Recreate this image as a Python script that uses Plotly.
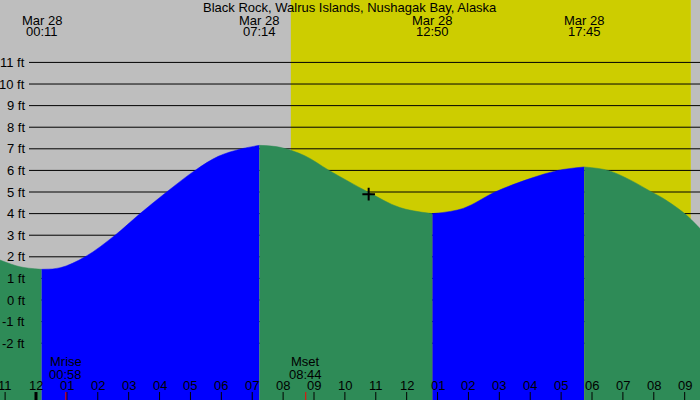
import plotly.graph_objects as go

# ---------------- data ----------------
title_text = "Black Rock, Walrus Islands, Nushagak Bay, Alaska"
date_label = "Mar 28"

# tide extremes (hours after midnight Mar 28)
tide_times = ["00:11", "07:14", "12:50", "17:45"]
tide_hours = [0.183, 7.233, 12.833, 17.75]
tide_heights = [1.42, 7.16, 4.00, 6.16]

# tide curve readings (hour, ft)
curve_hours = [-1.165, -0.52, 0.183, 0.78, 1.59, 2.56, 3.37, 4.23, 5.15, 5.90, 6.60,
               7.233, 7.90, 8.70, 9.49, 10.75, 11.78, 12.833, 13.83, 14.86,
               15.99, 16.90, 17.75, 18.52, 19.23, 19.93, 20.31, 21.00, 21.50]
curve_ft = [1.85, 1.54, 1.42, 1.49, 2.00, 3.00, 4.00, 5.00, 6.00, 6.65, 6.98,
            7.16, 7.07, 6.68, 6.00, 5.00, 4.28, 4.00, 4.24, 5.00,
            5.62, 6.00, 6.16, 6.00, 5.56, 5.00, 4.70, 4.00, 3.30]

# sun / moon
sunrise_h = 8.25
sunset_h = 21.20
moon_events = ["Mrise", "Mset"]
moon_times = ["00:58", "08:44"]
moon_hours = [0.967, 8.733]

# current position marker
now_h = 10.77
now_ft = 4.90

# axis ticks
y_ticks = [11, 10, 9, 8, 7, 6, 5, 4, 3, 2, 1, 0, -1, -2]
y_tick_labels = ["11 ft", "10 ft", "9 ft", "8 ft", "7 ft", "6 ft", "5 ft",
                 "4 ft", "3 ft", "2 ft", "1 ft", "0 ft", "-1 ft", "-2 ft"]
hour_ticks = list(range(-1, 22))
hour_labels = ["11", "12", "01", "02", "03", "04", "05", "06", "07", "08", "09",
               "10", "11", "12", "01", "02", "03", "04", "05", "06", "07", "08", "09"]

x_range = [-1.165, 21.496]
y_range = [-4.63, 13.89]

# ---------------- styles ----------------
NIGHT = "#BEBEBE"
DAY = "#CDCD00"
RISE = "#0000FF"
FALL = "#2E8B57"
FONT = "Liberation Sans"

fig = go.Figure()

# split curve into monotone segments at the extremes
split_idx = [0] + [curve_hours.index(h) for h in tide_hours] + [len(curve_hours) - 1]
for a, b in zip(split_idx[:-1], split_idx[1:]):
    xs = curve_hours[a:b + 1]
    ys = curve_ft[a:b + 1]
    col = RISE if ys[-1] > ys[0] else FALL
    fig.add_trace(go.Scatter(x=[xs[0], xs[-1]], y=[y_range[0], y_range[0]],
                             mode="lines", line=dict(width=0), hoverinfo="skip",
                             showlegend=False))
    fig.add_trace(go.Scatter(x=xs, y=ys, mode="lines", fill="tonexty",
                             fillcolor=col, line=dict(color=col, width=0.5,
                                                      shape="spline", smoothing=1),
                             hoverinfo="skip", showlegend=False))

fig.add_trace(go.Scatter(x=[now_h], y=[now_ft], mode="markers",
                         marker=dict(symbol="cross-thin", size=9,
                                     line=dict(color="black", width=2)),
                         hoverinfo="skip", showlegend=False))

shapes = []
# day / night background
shapes.append(dict(type="rect", xref="x", yref="paper", x0=x_range[0], x1=sunrise_h,
                   y0=0, y1=1, fillcolor=NIGHT, line=dict(width=0), layer="below"))
shapes.append(dict(type="rect", xref="x", yref="paper", x0=sunrise_h, x1=sunset_h,
                   y0=0, y1=1, fillcolor=DAY, line=dict(width=0), layer="below"))
shapes.append(dict(type="rect", xref="x", yref="paper", x0=sunset_h, x1=x_range[1],
                   y0=0, y1=1, fillcolor=NIGHT, line=dict(width=0), layer="below"))
# grid lines
for v in y_ticks:
    shapes.append(dict(type="line", xref="paper", yref="y", x0=29 / 700, x1=1,
                       y0=v, y1=v, line=dict(color="black", width=1), layer="below"))
# hour ticks
for h in hour_ticks:
    shapes.append(dict(type="line", xref="x", yref="paper", x0=h, x1=h,
                       y0=0, y1=8 / 400,
                       line=dict(color="black", width=3 if h == 0 else 1)))
for h in moon_hours:
    shapes.append(dict(type="line", xref="x", yref="paper", x0=h, x1=h,
                       y0=0, y1=8 / 400, line=dict(color="red", width=1)))

ann = []
font = dict(family=FONT, size=13, color="black")
ann.append(dict(text=title_text, xref="paper", yref="paper", x=0.5, y=1 - 7.5 / 400,
                xanchor="center", yanchor="middle", showarrow=False, font=font))
for t, h in zip(tide_times, tide_hours):
    ann.append(dict(text=date_label, xref="x", yref="paper", x=h, y=1 - 20 / 400,
                    xanchor="center", yanchor="middle", showarrow=False, font=font))
    ann.append(dict(text=t, xref="x", yref="paper", x=h, y=1 - 32 / 400,
                    xanchor="center", yanchor="middle", showarrow=False, font=font))
for v, lab in zip(y_ticks, y_tick_labels):
    ann.append(dict(text=lab, xref="paper", yref="y", x=27 / 700, y=v,
                    xanchor="right", yanchor="middle", showarrow=False, font=font))
for h, lab in zip(hour_ticks, hour_labels):
    ann.append(dict(text=lab, xref="x", yref="paper", x=h, y=1 - 385.5 / 400,
                    xanchor="center", yanchor="middle", showarrow=False, font=font))
for ev, t, h in zip(moon_events, moon_times, moon_hours):
    ann.append(dict(text=ev, xref="x", yref="paper", x=h, y=1 - 361 / 400,
                    xanchor="center", yanchor="middle", showarrow=False, font=font))
    ann.append(dict(text=t, xref="x", yref="paper", x=h, y=1 - 374 / 400,
                    xanchor="center", yanchor="middle", showarrow=False, font=font))

fig.update_layout(
    width=700, height=400,
    margin=dict(l=0, r=0, t=0, b=0),
    paper_bgcolor=NIGHT, plot_bgcolor=NIGHT,
    xaxis=dict(range=x_range, visible=False, fixedrange=True),
    yaxis=dict(range=y_range, visible=False, fixedrange=True),
    shapes=shapes, annotations=ann, showlegend=False,
)

fig.write_html("out.html", config={"displayModeBar": False})
